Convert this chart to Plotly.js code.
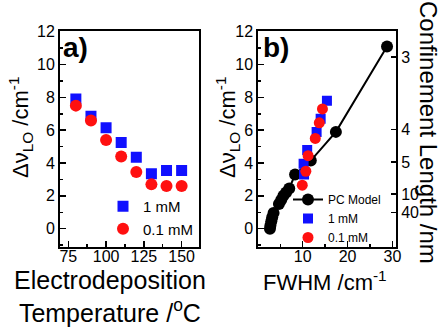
<!DOCTYPE html>
<html>
<head>
<meta charset="utf-8">
<script src="https://cdn.plot.ly/plotly-3.0.1.min.js"></script>
<style>html,body{margin:0;padding:0;background:#fff;}#chart{width:443px;height:327px;}</style>
</head>
<body>
<div id="chart"></div>
<script>
// Panel a: shift vs electrodeposition temperature
var tempA = [80, 90, 100, 110, 120, 130, 140, 150];
var shiftA_1mM = [7.9, 6.85, 6.15, 5.25, 4.35, 3.35, 3.55, 3.55];
var shiftA_01mM = [7.5, 6.6, 5.4, 4.4, 3.45, 2.7, 2.6, 2.6];

// Panel b: shift vs FWHM
var pcFwhm = [2.7, 2.8, 3.0, 3.2, 3.5, 4.7, 5.2, 5.7, 6.3, 7.0, 8.3, 11.8, 17.4, 28.8];
var pcShift = [0.0, 0.2, 0.45, 0.7, 0.95, 1.5, 1.75, 2.0, 2.2, 2.45, 3.3, 4.15, 5.9, 11.1];
var fwhmB_1mM = [15.4, 14.0, 13.1, 11.0, 10.2, 10.3];
var shiftB_1mM = [7.8, 6.7, 5.9, 4.8, 3.95, 3.3];
var fwhmB_01mM = [14.4, 13.7, 12.8, 11.2, 10.7, 9.9];
var shiftB_01mM = [7.3, 6.45, 5.5, 4.45, 3.5, 2.65];

// Right axis: confinement length tick labels at shift positions
var confTickShift = [10.45, 6.05, 4.05, 2.1, 1.0];
var confTickText = ['3', '4', '5', '10', '40'];

var names = {pc: 'PC Model', m1: '1 mM', m01: '0.1 mM'};
var BLUE = '#1010ff', RED = '#ff1010', BLACK = '#000000';
var FONT = 'Liberation Sans, Arial, sans-serif';

var traces = [
  {x: tempA, y: shiftA_1mM, type: 'scatter', mode: 'markers', name: names.m1,
   marker: {symbol: 'square', size: 11, color: BLUE}, xaxis: 'x', yaxis: 'y', legend: 'legend'},
  {x: tempA, y: shiftA_01mM, type: 'scatter', mode: 'markers', name: names.m01,
   marker: {symbol: 'circle', size: 12, color: RED}, xaxis: 'x', yaxis: 'y', legend: 'legend'},
  {x: pcFwhm, y: pcShift, type: 'scatter', mode: 'lines+markers', name: names.pc,
   line: {color: BLACK, width: 2}, marker: {symbol: 'circle', size: 12, color: BLACK},
   xaxis: 'x2', yaxis: 'y2', legend: 'legend2'},
  {x: fwhmB_1mM, y: shiftB_1mM, type: 'scatter', mode: 'markers', name: names.m1,
   marker: {symbol: 'square', size: 10, color: BLUE}, xaxis: 'x2', yaxis: 'y2', legend: 'legend2'},
  {x: fwhmB_01mM, y: shiftB_01mM, type: 'scatter', mode: 'markers', name: names.m01,
   marker: {symbol: 'circle', size: 11, color: RED}, xaxis: 'x2', yaxis: 'y2', legend: 'legend2'},
  // invisible companion so the right-hand confinement-length axis is drawn
  {x: pcFwhm, y: pcShift, type: 'scatter', mode: 'markers', showlegend: false, hoverinfo: 'skip',
   marker: {size: 1, opacity: 0}, xaxis: 'x2', yaxis: 'y3'}
];

var W = 443, H = 327;
function px(v) { return v / W; }
function py(v) { return 1 - v / H; }

var yDom = [py(246.7), py(31)];
var axisCommon = {
  showline: true, mirror: true, linewidth: 2, linecolor: BLACK,
  ticks: 'inside', ticklen: 6, tickwidth: 1.5, tickcolor: BLACK,
  showgrid: false, zeroline: false,
  tickfont: {family: FONT, size: 16, color: BLACK}
};
function ax(extra) { return Object.assign({}, axisCommon, extra); }

var layout = {
  width: W, height: H,
  margin: {l: 0, r: 0, t: 0, b: 0},
  paper_bgcolor: '#fff', plot_bgcolor: 'rgba(0,0,0,0)',
  font: {family: FONT, color: BLACK},
  showlegend: true,
  xaxis: ax({domain: [px(60), px(199)], range: [69.5, 161.5], tick0: 0, dtick: 25, ticklabelstandoff: -6,
    minor: {dtick: 12.5, ticks: 'inside', ticklen: 3, tickcolor: BLACK}, anchor: 'y'}),
  yaxis: ax({domain: yDom, range: [-1.1, 12.05], tick0: 0, dtick: 2,
    minor: {dtick: 1, ticks: 'inside', ticklen: 3, tickcolor: BLACK}, anchor: 'x'}),
  xaxis2: ax({domain: [px(258.3), px(396)], range: [0.1, 30.8], tick0: 0, dtick: 10, ticklabelstandoff: -6,
    minor: {dtick: 5, ticks: 'inside', ticklen: 3, tickcolor: BLACK}, anchor: 'y2'}),
  yaxis2: ax({domain: yDom, range: [-1.1, 12.05], tick0: 0, dtick: 2,
    minor: {dtick: 1, ticks: 'inside', ticklen: 3, tickcolor: BLACK}, anchor: 'x2'}),
  yaxis3: ax({overlaying: 'y2', side: 'right', anchor: 'x2', range: [-1.1, 12.05], mirror: false,
    tickmode: 'array', tickvals: confTickShift, ticktext: confTickText, ticklen: 5}),
  legend: {x: px(103), y: py(190), xanchor: 'left', yanchor: 'top', bgcolor: 'rgba(0,0,0,0)',
    font: {family: FONT, size: 15, color: BLACK}, tracegroupgap: 0},
  legend2: {x: px(288), y: py(185), xanchor: 'left', yanchor: 'top', bgcolor: 'rgba(0,0,0,0)',
    font: {family: FONT, size: 12, color: BLACK}, tracegroupgap: 0},
  annotations: [
    {text: '<b>a)</b>', xref: 'paper', yref: 'paper', x: px(61), y: py(30), xanchor: 'left', yanchor: 'top',
     showarrow: false, font: {family: FONT, size: 28, color: BLACK}},
    {text: '<b>b)</b>', xref: 'paper', yref: 'paper', x: px(261), y: py(30), xanchor: 'left', yanchor: 'top',
     showarrow: false, font: {family: FONT, size: 28, color: BLACK}},
    {text: 'Electrodeposition<br>Temperature /<sup>o</sup>C', xref: 'paper', yref: 'paper',
     x: px(110), y: py(264), xanchor: 'center', yanchor: 'top', showarrow: false,
     font: {family: FONT, size: 25, color: BLACK}},
    {text: 'FWHM /cm<sup>-1</sup>', xref: 'paper', yref: 'paper',
     x: px(325), y: py(265), xanchor: 'center', yanchor: 'top', showarrow: false,
     font: {family: FONT, size: 22, color: BLACK}},
    {text: '\u0394\u03bd<sub>LO</sub> /cm<sup>-1</sup>', xref: 'paper', yref: 'paper', textangle: -90,
     x: px(21), y: py(128), xanchor: 'center', yanchor: 'middle', showarrow: false,
     font: {family: FONT, size: 22, color: BLACK}},
    {text: '\u0394\u03bd<sub>LO</sub> /cm<sup>-1</sup>', xref: 'paper', yref: 'paper', textangle: -90,
     x: px(228), y: py(128), xanchor: 'center', yanchor: 'middle', showarrow: false,
     font: {family: FONT, size: 22, color: BLACK}},
    {text: 'Confinement Length /nm', xref: 'paper', yref: 'paper', textangle: 90,
     x: px(429), y: py(132), xanchor: 'center', yanchor: 'middle', showarrow: false,
     font: {family: FONT, size: 24, color: BLACK}}
  ]
};

Plotly.newPlot('chart', traces, layout, {staticPlot: true, displayModeBar: false});
</script>
</body>
</html>
